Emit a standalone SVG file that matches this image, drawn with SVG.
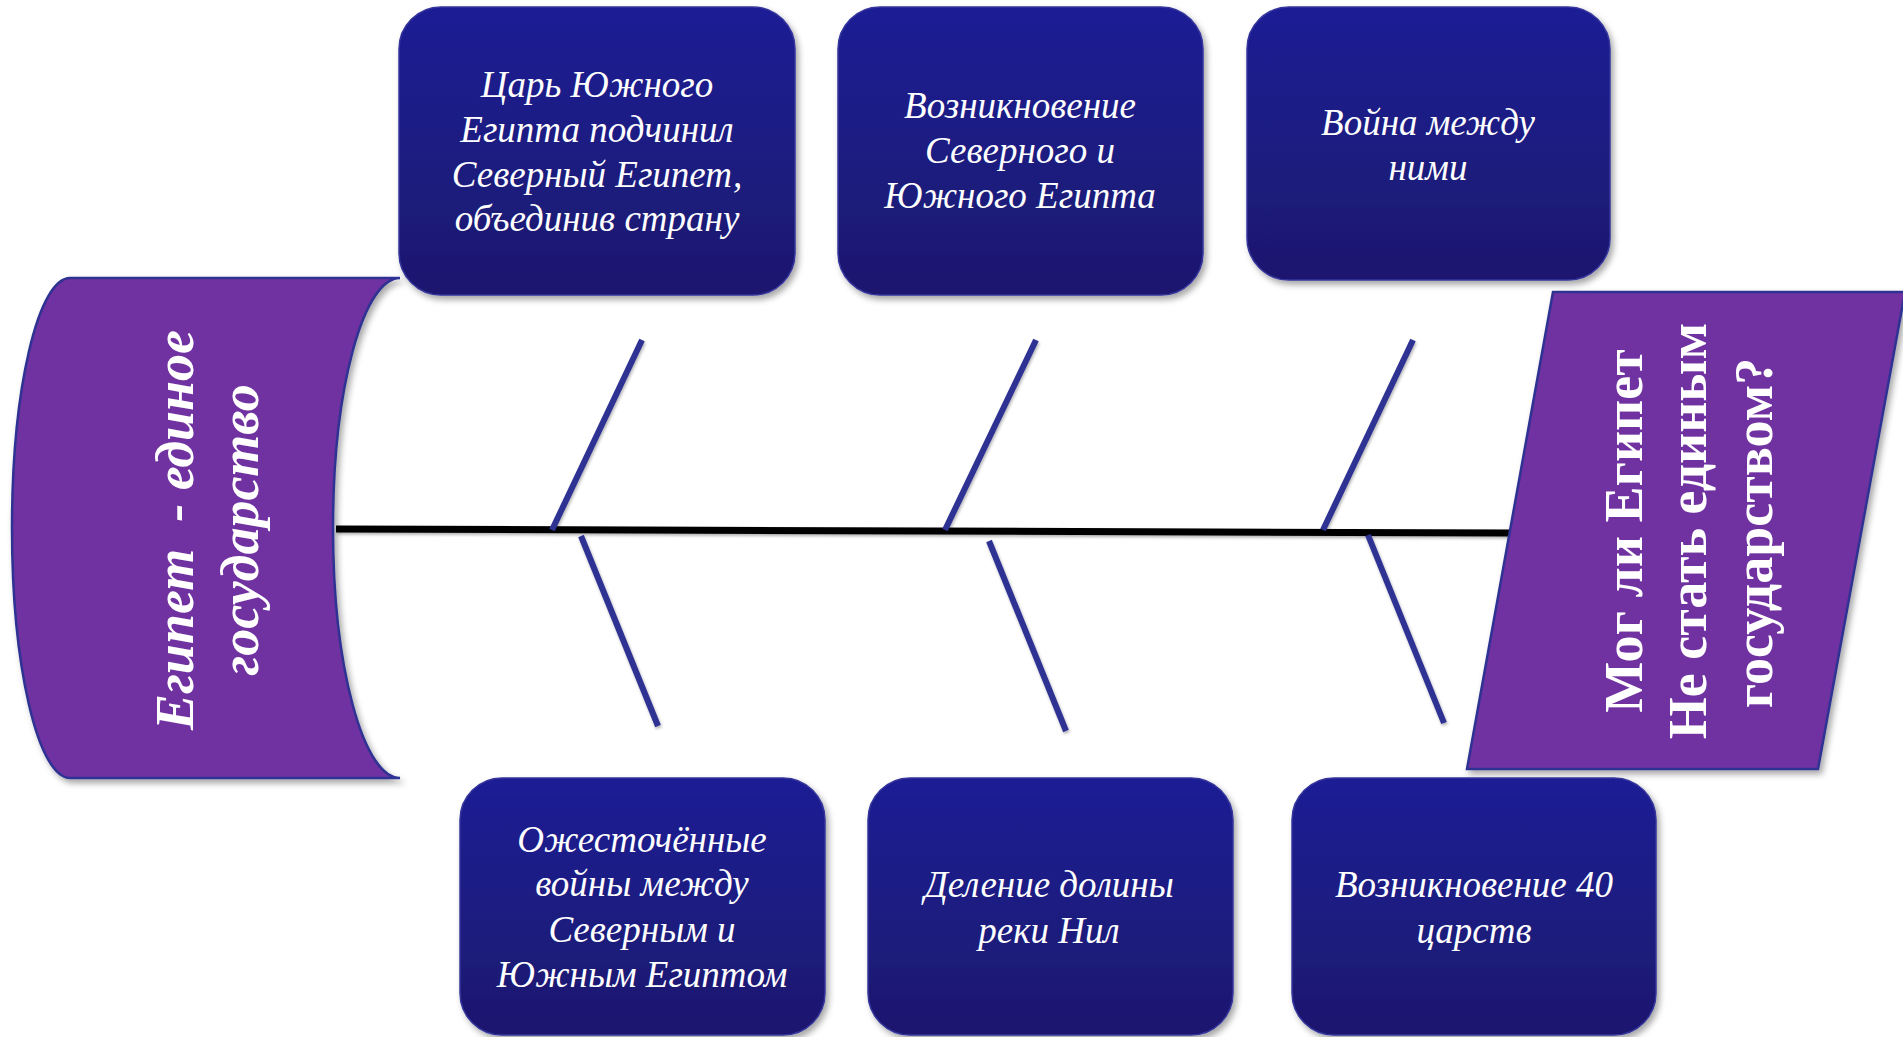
<svg xmlns="http://www.w3.org/2000/svg" width="1903" height="1037" viewBox="0 0 1903 1037">
<style>
.box{fill:url(#boxGrad);stroke:#34349c;stroke-width:1.5;filter:url(#shadow)}
.purple{fill:#7030A0;stroke:#2E3192;stroke-width:2.5;filter:url(#shadow)}
.bt{font-family:"Liberation Serif","Times New Roman",serif;font-style:italic;font-size:37px;fill:#ffffff;text-anchor:middle}
.lt{font-family:"Liberation Serif","Times New Roman",serif;font-style:italic;font-weight:bold;font-size:54px;fill:#ffffff;text-anchor:middle}
.rt{font-family:"Liberation Serif","Times New Roman",serif;font-weight:bold;font-size:54px;fill:#ffffff;text-anchor:middle}
.bone{stroke:#2E3192;stroke-width:6;fill:none}
.spine{stroke:#000000;stroke-width:7;fill:none}
</style>
<defs>
<linearGradient id="boxGrad" x1="0" y1="0" x2="0" y2="1">
<stop offset="0" stop-color="#1F1F95"/>
<stop offset="1" stop-color="#1A186E"/>
</linearGradient>
<filter id="shadow" x="-10%" y="-10%" width="125%" height="125%">
<feDropShadow dx="3" dy="4" stdDeviation="3" flood-color="#000000" flood-opacity="0.35"/>
</filter>
<filter id="lshadow" x="-10%" y="-50%" width="120%" height="300%">
<feDropShadow dx="1" dy="2" stdDeviation="1.5" flood-color="#000000" flood-opacity="0.3"/>
</filter>
</defs>
<rect width="1903" height="1037" fill="#ffffff"/>

<g id="connectors" filter="url(#lshadow)">
<line class="spine" x1="336" y1="529" x2="1512" y2="533"/>
<line class="bone" x1="552" y1="530" x2="642" y2="340"/>
<line class="bone" x1="945" y1="530" x2="1036" y2="340"/>
<line class="bone" x1="1323" y1="530" x2="1413" y2="340"/>
<line class="bone" x1="581" y1="536" x2="658" y2="726"/>
<line class="bone" x1="989" y1="541" x2="1066" y2="731"/>
<line class="bone" x1="1368" y1="535" x2="1444" y2="723"/>
</g>

<g id="effect-left">
<path class="purple" d="M70,278 L400,278 A67,250 0 0,0 400,778 L70,778 A58,250 0 0,1 70,278 Z"/>
<text class="lt" transform="translate(0,530) rotate(-90)"><tspan x="0" y="193">Египет&#160; - единое</tspan><tspan x="0" y="258">государство</tspan></text>
</g>

<g id="head-right">
<path class="purple" d="M1553,292 L1905,292 L1818,769 L1467,769 Z"/>
<text class="rt" transform="translate(0,531) rotate(-90)"><tspan x="0" y="1642">Мог ли Египет</tspan><tspan x="0" y="1706">Не стать единым</tspan><tspan x="-2" y="1772">государством?</tspan></text>
</g>

<g id="top-1">
<rect class="box" x="399" y="7" width="396" height="288" rx="42"/>
<text class="bt"><tspan x="597" y="97">Царь Южного</tspan><tspan x="597" y="142">Египта подчинил</tspan><tspan x="597" y="187">Северный Египет,</tspan><tspan x="597" y="231">объединив страну</tspan></text>
</g>

<g id="top-2">
<rect class="box" x="838" y="7" width="365" height="288" rx="42"/>
<text class="bt"><tspan x="1020" y="118">Возникновение</tspan><tspan x="1020" y="163">Северного и</tspan><tspan x="1020" y="208">Южного Египта</tspan></text>
</g>

<g id="top-3">
<rect class="box" x="1247" y="7" width="363" height="273" rx="42"/>
<text class="bt"><tspan x="1428" y="135">Война между</tspan><tspan x="1428" y="180">ними</tspan></text>
</g>

<g id="bottom-1">
<rect class="box" x="460" y="778" width="365" height="257" rx="42"/>
<text class="bt"><tspan x="642" y="852">Ожесточённые</tspan><tspan x="642" y="896">войны между</tspan><tspan x="642" y="942">Северным и</tspan><tspan x="642" y="987">Южным Египтом</tspan></text>
</g>

<g id="bottom-2">
<rect class="box" x="868" y="778" width="365" height="257" rx="42"/>
<text class="bt"><tspan x="1049" y="897">Деление долины</tspan><tspan x="1049" y="943">реки Нил</tspan></text>
</g>

<g id="bottom-3">
<rect class="box" x="1292" y="778" width="364" height="257" rx="42"/>
<text class="bt"><tspan x="1474" y="897">Возникновение 40</tspan><tspan x="1474" y="943">царств</tspan></text>
</g>
</svg>
